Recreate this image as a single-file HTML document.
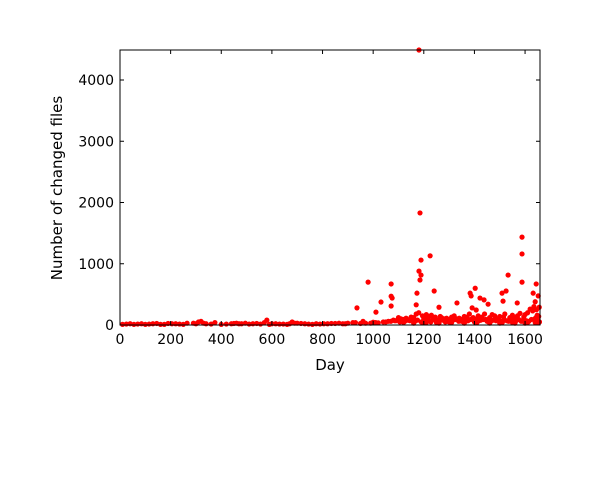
<!DOCTYPE html>
<html><head><meta charset="utf-8"><style>
html,body{margin:0;padding:0;background:#fff;}
svg{display:block;font-family:"DejaVu Sans","Liberation Sans",sans-serif;}
</style></head><body>
<svg id="chart" width="600" height="500">
<defs><clipPath id="clip"><rect x="118" y="44" width="424" height="283"/></clipPath></defs>
<rect width="600" height="500" fill="#fff"/>
<g id="pts" clip-path="url(#clip)"></g>
<g id="axes"></g>
<text x="330" y="370" font-size="15" text-anchor="middle">Day</text>
<text transform="translate(62,188) rotate(-90)" font-size="15" text-anchor="middle">Number of changed files</text>
</svg>
<script>
const days = [
1181,1185,1189,1225,980,936,1031,1011,1071,1071,
1075,1071,1185,1189,1181,1173,1170,1241,1260,1391,
1383,1387,1403,1422,1438,1407,1454,1509,1525,1533,
1588,1588,1588,1644,1632,1652,1569,1513,1331,1656,
10,40,70,100,130,160,190,220,250,290,
310,320,330,360,400,440,460,480,510,540,
570,580,600,630,660,680,700,730,760,790,
820,850,880,900,920,950,960,990,1010,1040,
1060,1080,1090,1100,1110,1120,1130,1140,1150,1160,
1170,1180,1195,1200,1205,1210,1215,1220,1230,1235,
1245,1250,1255,1265,1270,1280,1290,1300,1310,1320,
1330,1340,1350,1360,1370,1380,1395,1410,1415,1420,
1430,1440,1445,1460,1470,1480,1490,1500,1515,1520,
1540,1550,1560,1570,1580,1595,1600,1610,1620,1630,
1635,1640,1645,1648,1650,1653,1655,1657,1200,1250,
1300,1350,1400,1450,1500,1550,1600,1640,1120,1160,
1210,1260,1310,1360,1410,1460,1510,1560,1610,1650,
25,55,85,115,145,175,205,235,265,300,
340,375,420,450,470,495,525,555,590,615,
645,670,690,715,745,775,805,835,865,890,
930,970,1000,1020,1050,1070,1085,1105,1125,1135,
1145,1155,1165,1175,1190,1198,1208,1218,1228,1240,
1252,1262,1275,1285,1295,1305,1315,1325,1338,1345,
1355,1365,1375,1385,1398,1405,1418,1425,1435,1450,
1465,1475,1485,1495,1505,1518,1528,1535,1545,1555,
1565,1575,1585,1592,1605,1615,1625,1638,1643,1654];
const changes = [
4490,1830,1060,1130,700,280,375,210,670,470,
440,310,735,815,880,520,330,555,290,280,
520,475,600,440,410,245,340,520,555,815,
1435,1160,700,670,520,475,360,390,360,290,
10,20,15,10,20,10,25,20,10,30,
50,60,30,15,10,20,30,20,15,25,
40,80,20,15,10,50,30,20,10,15,
20,25,20,30,40,25,60,30,40,50,
60,80,70,120,100,90,110,80,130,120,
180,200,150,100,120,170,90,140,160,110,
130,90,80,140,120,100,110,90,130,150,
100,110,90,140,130,180,120,100,150,110,
130,180,90,120,170,150,100,140,130,180,
120,160,110,150,190,130,170,200,260,230,
300,380,250,160,50,60,40,50,60,40,
50,60,50,60,30,40,30,40,40,30,
40,30,40,30,40,30,40,30,40,60,
15,10,20,15,25,10,20,15,30,20,
20,40,15,25,20,30,20,15,10,20,
15,20,30,25,15,20,20,25,30,20,
40,30,45,35,50,60,70,50,60,80,
70,90,60,80,50,40,60,70,50,90,
60,70,80,50,60,70,80,90,60,70,
80,60,70,90,80,60,70,80,90,70,
60,80,70,90,60,80,70,60,80,90,
70,90,60,80,70,60,90,100,120,140];
const xTicks=[0,200,400,600,800,1000,1200,1400,1600];
const yTicks=[0,1000,2000,3000,4000];
const X0=120,X1=540,Y0=325,Y1=50,XMAX=1659,YMAX=4490;
const sx=v=>X0+v/XMAX*(X1-X0), sy=v=>Y0-v/YMAX*(Y0-Y1);
const NS="http://www.w3.org/2000/svg";
const pts=document.getElementById('pts'), ax=document.getElementById('axes');
const n=Math.min(days.length,changes.length);
for(let i=0;i<n;i++){
 const c=document.createElementNS(NS,'circle');
 c.setAttribute('cx',sx(days[i]));c.setAttribute('cy',sy(changes[i]));c.setAttribute('r',2.6);c.setAttribute('fill','#ff0000');
 
 
 pts.appendChild(c);
}
const fr=document.createElementNS(NS,'rect');
fr.setAttribute('x',X0);fr.setAttribute('y',Y1);fr.setAttribute('width',X1-X0);fr.setAttribute('height',Y0-Y1);
fr.setAttribute('fill','none');fr.setAttribute('stroke','#000');fr.setAttribute('stroke-width','1');


ax.appendChild(fr);
function line(x1,y1,x2,y2){const l=document.createElementNS(NS,'line');l.setAttribute('x1',x1);l.setAttribute('y1',y1);l.setAttribute('x2',x2);l.setAttribute('y2',y2);l.setAttribute('stroke','#000');


ax.appendChild(l);}
function txt(x,y,s,a){const t=document.createElementNS(NS,'text');t.setAttribute('x',x);t.setAttribute('y',y);t.setAttribute('font-size','14');t.setAttribute('text-anchor',a);t.textContent=s;


ax.appendChild(t);}
xTicks.forEach(v=>{const x=sx(v);line(x,Y0,x,Y0-4);line(x,Y1,x,Y1+4);txt(x,Y0+19,String(v),'middle');});
yTicks.forEach(v=>{const y=sy(v);line(X0,y,X0+4,y);line(X1,y,X1-4,y);txt(X0-6,y+5,String(v),'end');});
</script>
</body></html>
